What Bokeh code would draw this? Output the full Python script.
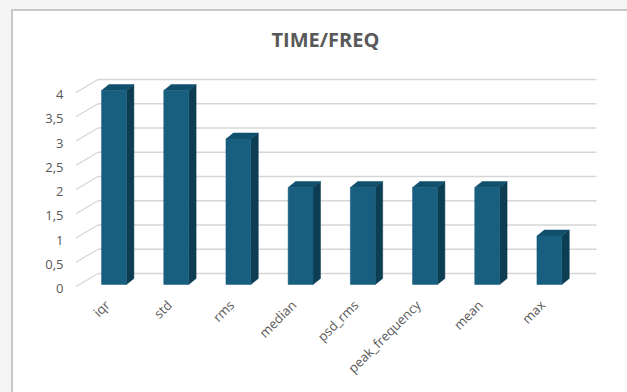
from bokeh.plotting import figure
from bokeh.models import Range1d, LinearAxis, FixedTicker, ColumnDataSource
from bokeh.layouts import column
from bokeh.embed import file_html
from bokeh.resources import INLINE
import math

# ---- data ----
categories = ["iqr", "std", "rms", "median", "psd_rms", "peak_frequency", "mean", "max"]
values = [4, 4, 3, 2, 2, 2, 2, 1]
y_ticks = [0, 0.5, 1, 1.5, 2, 2.5, 3, 3.5, 4]
y_tick_labels = ["0", "0,5", "1", "1,5", "2", "2,5", "3", "3,5", "4"]
title_text = "TIME/FREQ"

# ---- style / geometry ----
FRONT = "#175E7F"
TOP = "#11506D"
SIDE = "#0D3D53"
GRID = "#D6D6D6"
TEXT = "#595959"
W = 0.40      # bar width (x units)
DX = 0.12     # depth offset x
DY = 0.124    # depth offset y
BACK_DY = 0.227
WALL_X0, WALL_X1, GRID_X1 = -0.611, -0.257, 7.757
X0, X1 = -0.7315, 7.822
Y0, Y1 = -0.2474, 4.6186

p = figure(width=614, height=381, output_backend="svg", toolbar_location=None,
           x_range=Range1d(X0, X1), y_range=Range1d(Y0, Y1),
           x_axis_location=None, y_axis_location=None,
           min_border_left=55, min_border_right=27,
           min_border_top=49, min_border_bottom=96,
           background_fill_color="white", border_fill_color="white",
           outline_line_color=None)
p.grid.visible = False

p.title.text = title_text
p.title.align = "left"
p.title.offset = 203
p.title.text_font = "Open Sans"
p.title.text_font_style = "bold"
p.title.text_font_size = "20px"
p.title.text_color = TEXT
p.title.standoff = 16

# back-wall gridlines and side-wall diagonals
gx0 = [WALL_X1] * len(y_ticks)
gx1 = [GRID_X1] * len(y_ticks)
gy = [t + BACK_DY for t in y_ticks]
p.segment(x0=gx0, y0=gy, x1=gx1, y1=gy, line_color=GRID, line_width=1.3)
p.segment(x0=[WALL_X0] * len(y_ticks), y0=[t - 0.041 for t in y_ticks],
          x1=gx0, y1=gy, line_color=GRID, line_width=1.3)

xs = list(range(len(categories)))
src = ColumnDataSource(dict(x=xs, top=values))
side_xs, side_ys, top_xs, top_ys = [], [], [], []
for i, v in zip(xs, values):
    r = i + W / 2
    l = i - W / 2
    side_xs.append([r, r, r + DX, r + DX])
    side_ys.append([0, v, v + DY, DY])
    top_xs.append([l, r, r + DX, l + DX])
    top_ys.append([v, v, v + DY, v + DY])
p.patches(side_xs, side_ys, fill_color=SIDE, line_color=SIDE, line_width=0.5)
p.patches(top_xs, top_ys, fill_color=TOP, line_color=TOP, line_width=0.5)
p.vbar(x="x", top="top", bottom=0, width=W, source=src, fill_color=FRONT, line_color=FRONT, line_width=0.5)

# x axis (labels anchored a little left of the bar centres)
p.extra_x_ranges = {"lab": Range1d(X0 + 0.11, X1 + 0.11)}
xax = LinearAxis(x_range_name="lab", ticker=FixedTicker(ticks=xs))
xax.major_label_overrides = {i: c for i, c in zip(xs, categories)}
xax.major_label_orientation = math.pi / 4
xax.axis_line_color = None
xax.major_tick_line_color = None
xax.minor_tick_line_color = None
xax.major_tick_out = 0
xax.major_label_standoff = 6
xax.major_label_text_font = "Open Sans"
xax.major_label_text_font_size = "13px"
xax.major_label_text_color = TEXT
p.add_layout(xax, "below")

# y axis (labels sit slightly lower, at the front edge of the floor)
p.extra_y_ranges = {"lab": Range1d(Y0 + 0.085, Y1 + 0.085)}
yax = LinearAxis(y_range_name="lab", ticker=FixedTicker(ticks=y_ticks))
yax.major_label_overrides = {t: s for t, s in zip(y_ticks, y_tick_labels)}
yax.axis_line_color = None
yax.major_tick_line_color = None
yax.minor_tick_line_color = None
yax.major_tick_out = 0
yax.major_label_standoff = 5
yax.major_label_text_font = "Open Sans"
yax.major_label_text_font_size = "13px"
yax.major_label_text_color = TEXT
p.add_layout(yax, "left")

white = column(p, styles={"background-color": "white"}, width=614, height=381, margin=(2, 0, 0, 2))
edge = column(white, styles={"background-color": "#C8C8C8"}, width=616, height=383, margin=(9, 0, 0, 11))
layout = column(edge, styles={"background-color": "#F5F5F5"}, width=627, height=392)
open("out.html", "w").write(file_html(layout, INLINE))
